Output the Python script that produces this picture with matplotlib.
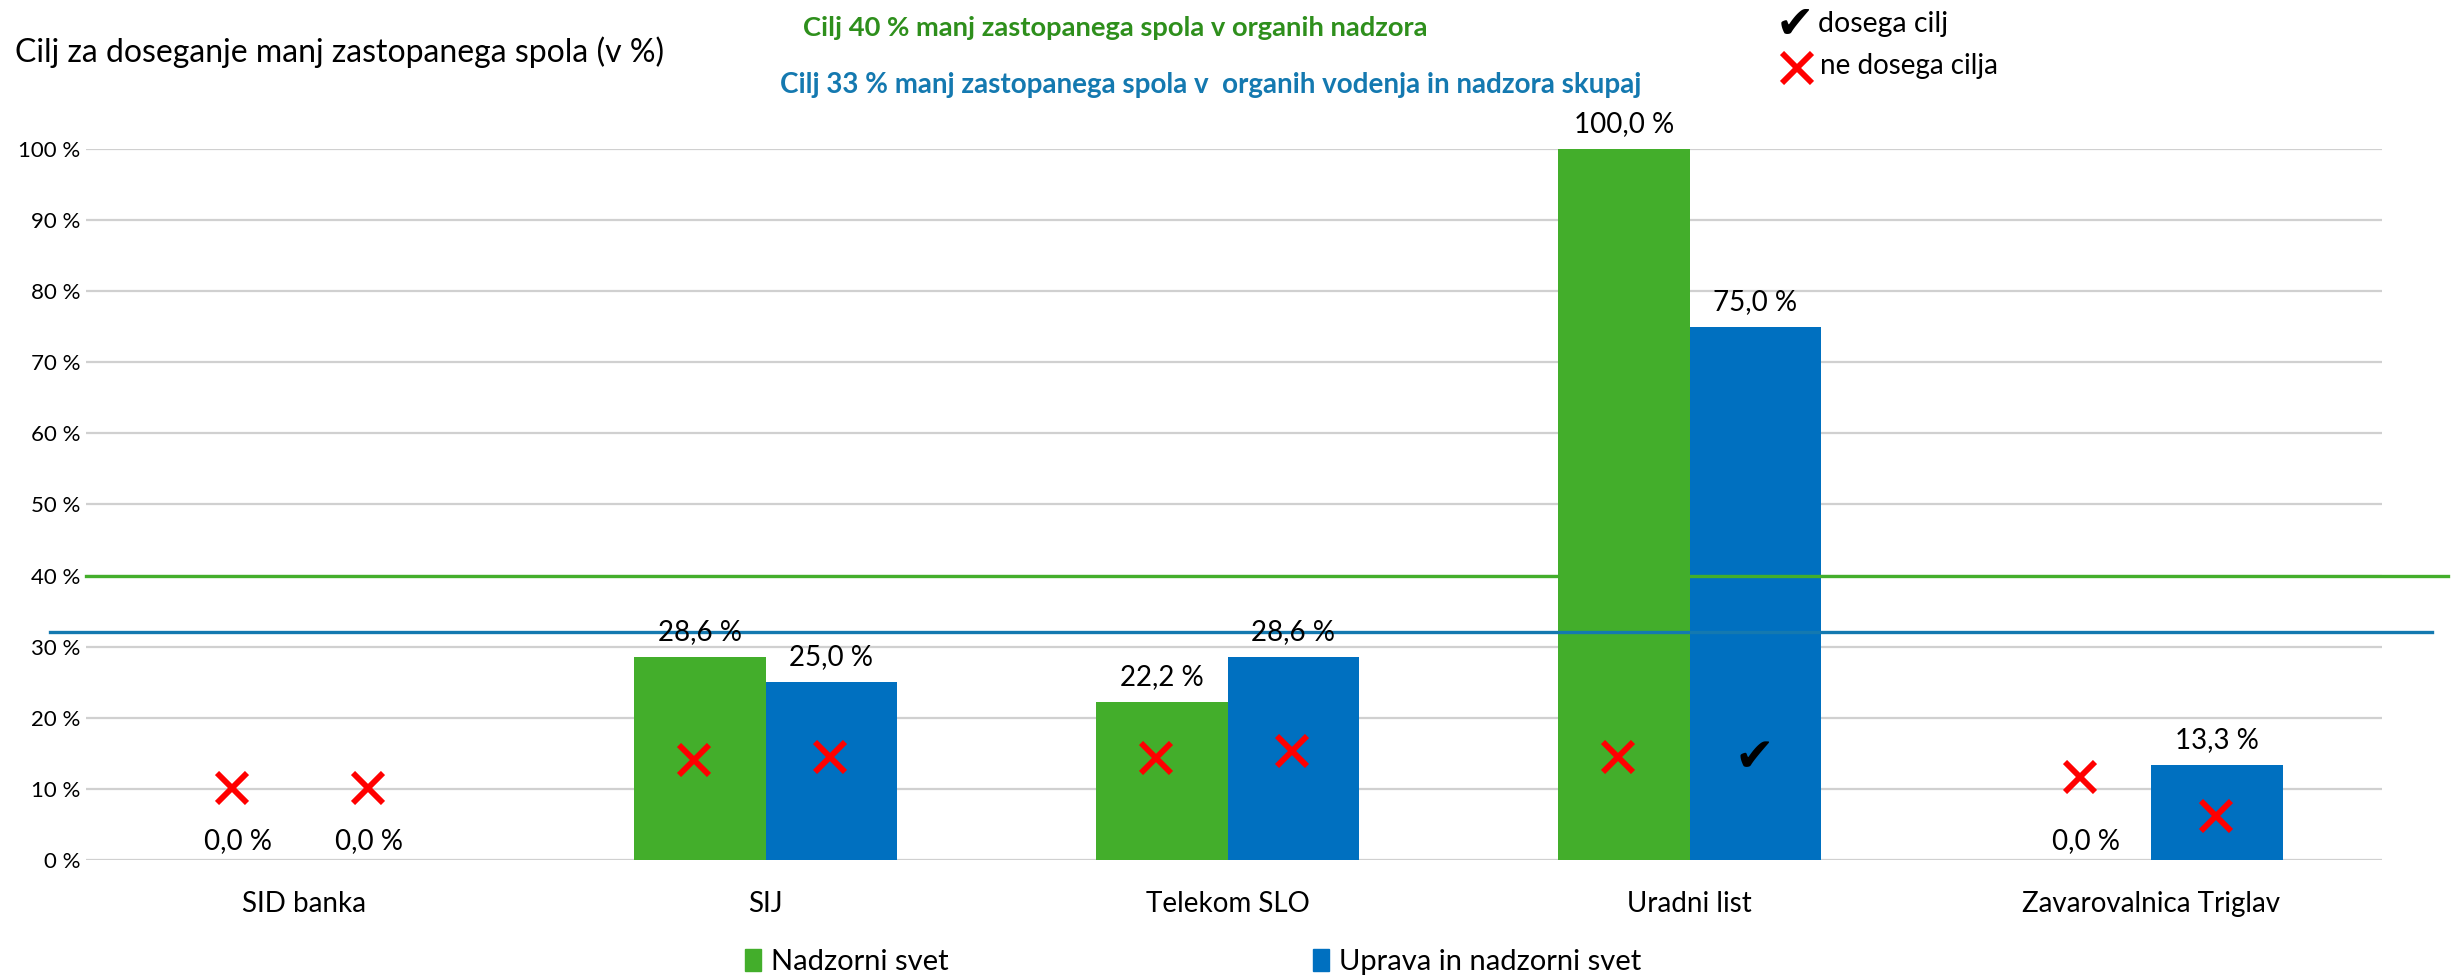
import matplotlib
matplotlib.use("Agg")
import matplotlib.pyplot as plt
import matplotlib.transforms as mtransforms
from matplotlib.patches import Patch
import numpy as np

plt.rcParams['font.family'] = ['Lato', 'DejaVu Sans']

categories = ["SID banka", "SIJ", "Telekom SLO", "Uradni list", "Zavarovalnica Triglav"]
nadzorni = [0.0, 28.6, 22.2, 100.0, 0.0]
uprava = [0.0, 25.0, 28.6, 75.0, 13.3]
series_names = ["Nadzorni svet", "Uprava in nadzorni svet"]
target_nadzor = 40.0
target_skupaj = 32.0
# marker heights (in %) and whether target reached
mark_nadzorni_y = [10.1, 14.1, 14.3, 14.5, 11.7]
mark_uprava_y = [10.1, 14.5, 15.4, 14.3, 6.2]
reached_nadzorni = [False, False, False, False, False]
reached_uprava = [False, False, False, True, False]
yticks = [0, 10, 20, 30, 40, 50, 60, 70, 80, 90, 100]
ytick_labels = [f"{v} %" for v in yticks]

GREEN = "#43AE2B"
BLUE = "#0070C0"
LINE_GREEN = "#43AE2B"
LINE_BLUE = "#1479B0"

W, H = 2456, 980
fig = plt.figure(figsize=(W / 100, H / 100), dpi=100)
ax = fig.add_axes([86 / W, 120 / H, (2382 - 86) / W, (860 - 149) / H])

x = np.arange(len(categories))
bw = 0.285
b1 = ax.bar(x - bw / 2, nadzorni, bw, color=GREEN, zorder=3)
b2 = ax.bar(x + bw / 2, uprava, bw, color=BLUE, zorder=3)

ax.set_xlim(-0.471, 4.499)
ax.set_ylim(0, 100)
ax.set_yticks(yticks)
ax.set_yticklabels(ytick_labels, fontsize=16)
ax.set_xticks(x)
ax.set_xticklabels(categories, fontsize=20)
ax.tick_params(axis='both', length=0)
ax.tick_params(axis='y', pad=4)
ax.tick_params(axis='x', pad=22)
for s in ax.spines.values():
    s.set_visible(False)
ax.yaxis.grid(True, color="#D0D0D0", linewidth=1.6, zorder=0)
ax.set_axisbelow(True)

# value labels
def fmt(v):
    return f"{v:.1f}".replace(".", ",") + " %"

for bars, vals in ((b1, nadzorni), (b2, uprava)):
    for rect, v in zip(bars, vals):
        off = 6 if v == 0 else 12
        ax.annotate(fmt(v), (rect.get_x() + rect.get_width() / 2, v),
                    xytext=(0, off), textcoords="offset pixels",
                    ha="center", va="bottom", fontsize=20, color="black",
                    zorder=6, annotation_clip=False)

# target lines
tr = mtransforms.blended_transform_factory(fig.transFigure, ax.transData)
ax.plot([86 / W, 2448 / W], [target_nadzor] * 2, transform=tr, color=LINE_GREEN,
        lw=2.4, zorder=5, clip_on=False)
ax.plot([50 / W, 2432 / W], [target_skupaj] * 2, transform=tr, color=LINE_BLUE,
        lw=2.4, zorder=5, clip_on=False)

# status markers
def draw_mark(xp, yp, ok):
    if ok:
        ax.text(xp, yp, "\u2714", ha="center", va="center", fontsize=34,
                color="black", family="DejaVu Sans", zorder=7)
    else:
        ax.plot([xp], [yp], marker="x", markersize=21, mew=4.2, color="#FF0000",
                zorder=7, linestyle="none")

for i in range(len(categories)):
    draw_mark(x[i] - bw / 2 - 0.012, mark_nadzorni_y[i], reached_nadzorni[i])
    draw_mark(x[i] + bw / 2 - 0.003, mark_uprava_y[i], reached_uprava[i])

# title and annotations
fig.text(15 / W, 1 - 52 / H, "Cilj za doseganje manj zastopanega spola (v %)",
         fontsize=23, ha="left", va="center")
fig.text(803 / W, 1 - 28 / H, "Cilj 40 % manj zastopanega spola v organih nadzora",
         fontsize=19.7, fontweight="bold", color="#2E8F1C", ha="left", va="center")
fig.text(780 / W, 1 - 85 / H,
         "Cilj 33 % manj zastopanega spola v  organih vodenja in nadzora skupaj",
         fontsize=20, fontweight="bold", color="#1479B0", ha="left", va="center")

# top-right key
fig.text(1795 / W, 1 - 26 / H, "\u2714", fontsize=33, family="DejaVu Sans",
         ha="center", va="center", color="black")
fig.text(1818 / W, 1 - 24 / H, "dosega cilj", fontsize=20.5, ha="left", va="center")
fig.lines.append(plt.Line2D([1797 / W], [1 - 68 / H], transform=fig.transFigure,
                            marker="x", markersize=21, mew=4.2, color="#FF0000",
                            linestyle="none"))
fig.text(1820 / W, 1 - 66 / H, "ne dosega cilja", fontsize=20, ha="left", va="center")

# bottom legend
handles = [Patch(color=GREEN), Patch(color=BLUE)]
leg = fig.legend(handles, series_names, loc="center", bbox_to_anchor=(1193 / W, 1 - 962 / H),
                 ncol=2, frameon=False, fontsize=21, handlelength=0.55, handleheight=0.75,
                 handletextpad=0.35, columnspacing=12.5)

fig.savefig("out.png", dpi=100)
